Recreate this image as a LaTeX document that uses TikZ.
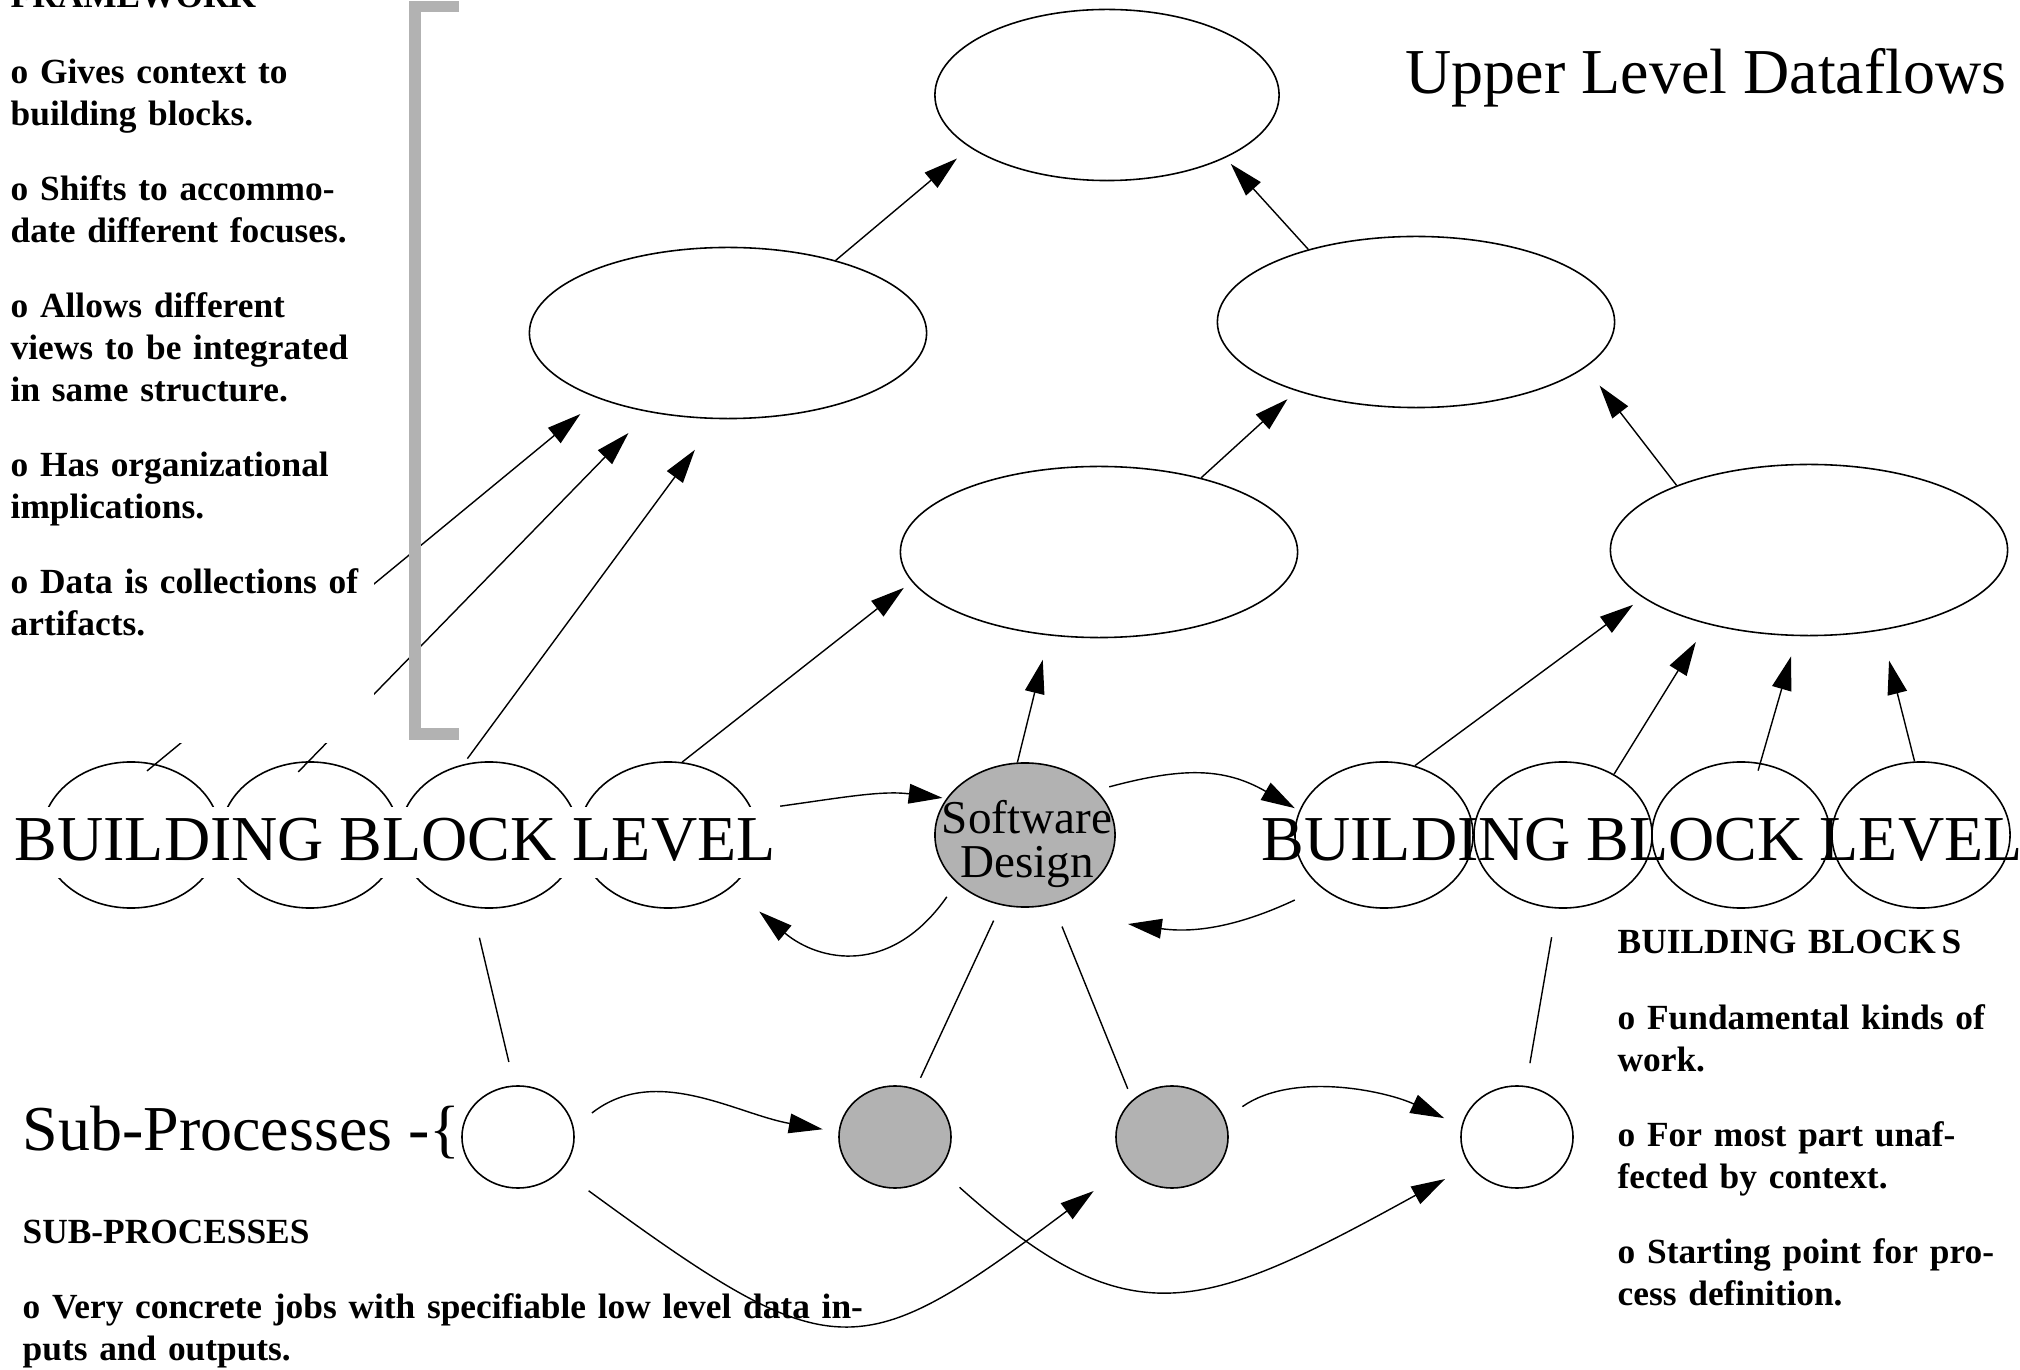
\documentclass[tikz,border=0pt]{standalone}
\usepackage{fontspec}
\setmainfont{Liberation Serif}
\usetikzlibrary{shapes,arrows.meta,calc}
\newcommand{\notefont}{\fontsize{10.05pt}{11.95pt}\selectfont\bfseries}
\newcommand{\bigfont}{\fontsize{18.2pt}{21pt}\selectfont}
\newcommand{\sdfont}{\fontsize{13.4pt}{12.5pt}\selectfont}
\tikzset{blob/.style = {draw, ellipse, inner sep=0pt, line width=0.45pt},
         upper/.style = {blob, minimum width=3.97cm, minimum height=1.71cm},
         block/.style = {blob, minimum width=1.78cm, minimum height=1.46cm},
         job/.style = {blob, minimum width=1.12cm, minimum height=1.02cm},
         filled/.style = {fill=black!30},
         flow/.style = {line width=0.4pt, -{Triangle[length=9.6pt,width=5.6pt]}},
         link/.style = {line width=0.4pt},
         note/.style = {font=\notefont, anchor=base west, inner sep=0pt, align=left},
         bigtext/.style = {font=\bigfont, anchor=base west, inner sep=0pt}}
\def\gapskip{9.4pt}

\begin{document}
\begin{tikzpicture}[x=0.01cm, y=-0.01cm]
\useasboundingbox (0,0) rectangle (2020,1370);

% upper level dataflows
\node (top) [upper, minimum width=3.44cm] at (1107,95) {};
\node (midL) [upper] at (728,333) {};
\node (midR) [upper] at (1416,322) {};
\node (lowM) [upper] at (1099,552) {};
\node (lowR) [upper] at (1809,550) {};

% building block level
\node (bb1) [block] at (131,835) {};
\node (bb2) [block] at (310,835) {};
\node (bb3) [block] at (489,835) {};
\node (bb4) [block] at (668,835) {};
\node (sd) [block, filled, minimum width=1.80cm, minimum height=1.44cm] at (1025,835) {};
\node (bbR1) [block] at (1384,835) {};
\node (bbR2) [block] at (1563,835) {};
\node (bbR3) [block] at (1741,835) {};
\node (bbR4) [block] at (1921,835) {};

% sub-processes
\node (sub1) [job] at (518,1137) {};
\node (sub2) [job, filled] at (895,1137) {};
\node (sub3) [job, filled] at (1172,1137) {};
\node (sub4) [job] at (1517,1137) {};

% big labels
\node (uld) [bigtext] at (1405,94) {Upper Level Dataflows};
\node (bbtxtL) [bigtext, fill=white, inner xsep=0.04cm, text height=15.1pt, text depth=5.1pt] at (10,860) {BUILDING BLOCK LEVEL};
\node (bbtxtR) [bigtext] at (1261,860) {BUILDING BLOCK LEVEL};
\node (subtxt) [bigtext] at (22,1150) {Sub-Processes -\{};
\node (sdtext) [font=\sdfont, align=center, inner sep=0pt] at (1027,844) {Software\\Design};

% Draw connections between nodes
\draw [flow, shorten >=0.17cm] (midL.34) -- (top.201);
\draw [flow, shorten >=0.08cm] (midR.146) -- (top.332);
\draw [flow, shorten >=0.12cm] (lowM.36) -- (midR.210);
\draw [flow, shorten >=0.23cm] (lowR.154) -- (midR.345);

\draw [flow, shorten <=-0.11cm, shorten >=0.24cm] (bb1.71) -- (midL.207);
\draw [flow, shorten <=-0.15cm, shorten >=0.29cm] (bb2.91) -- (midL.225);
\draw [flow, shorten <=0.07cm, shorten >=0.38cm] (bb3.110) -- (midL.263);
\draw [flow, shorten >=0.10cm] (bb4.79) -- (lowM.189);
\draw [flow, shorten >=0.25cm] (sd.96) -- (lowM.239);
\draw [flow, shorten >=0.12cm] (bbR1.66) -- (lowR.196);
\draw [flow, shorten >=0.21cm] (bbR2.50) -- (lowR.216);
\draw [flow, shorten <=-0.08cm, shorten >=0.21cm] (bbR3.75) -- (lowR.262);
\draw [flow, shorten >=0.31cm] (bbR4.95) -- (lowR.312);

% flows in and out of software design
\draw [flow, shorten >=0.04cm] (bbtxtL.north east) to[out=8, in=173] (sd.155);
\draw [flow, shorten <=0.17cm, shorten >=0.37cm] (sd.215) to[out=235, in=320, looseness=1.3] (bb4.320);
\draw [flow, shorten <=0.13cm, shorten >=0.05cm] (sd.32) to[out=15, in=150, looseness=1.1] (bbR1.164);
\coordinate (sdin) at ($(sd.center)+(103,89)$);
\draw [flow, shorten <=0.29cm] (bbR1.220) to[out=205, in=352] (sdin);

% links down to the sub-processes
\draw [link, shorten <=0.31cm, shorten >=0.24cm] (bb3.257) -- (sub1.94);
\draw [link, shorten <=0.17cm, shorten >=0.12cm] (sd.251) -- (sub2.67);
\draw [link, shorten <=0.24cm, shorten >=0.12cm] (sd.292) -- (sub3.137);
\draw [link, shorten <=0.29cm, shorten >=0.23cm] (bbR2.265) -- (sub4.80);

% flows between sub-processes
\draw [flow, shorten <=0.23cm, shorten >=0.16cm] (sub1.10) to[out=38, in=170] (sub2.175);
\draw [flow, shorten <=0.34cm, shorten >=0.40cm] (sub1.322) .. controls ($(sub1)+(316,233)$) and ($(sub3)+(-315,231)$) .. (sub3.213);
\draw [flow, shorten <=0.27cm, shorten >=0.28cm] (sub2.324) .. controls ($(sub2)+(235,203)$) and ($(sub4)+(-317,177)$) .. (sub4.211);
\draw [flow, shorten <=0.21cm, shorten >=0.19cm] (sub3.19) to[out=35, in=155, looseness=0.9] (sub4.169);

% framework notes, over a white frame, with the grey bracket
\fill [white] (0,0) rectangle (374,743);
\draw [black!30, line width=0.11cm] (459,7) -- (415,7) -- (415,734) -- (459,734);
\node (frame) [note, text width=3.7cm] at (10,8) {FRAMEWORK\\[\gapskip]
  o Gives context to\\ building blocks.\\[\gapskip]
  o Shifts to accommo-\\ date different focuses.\\[\gapskip]
  o Allows different\\ views to be integrated\\ in same structure.\\[\gapskip]
  o Has organizational\\ implications.\\[\gapskip]
  o Data is collections of\\ artifacts.};

\node (blocks) [note, text width=3.95cm] at (1617,954) {BUILDING BLOCK\,S\\[\gapskip]
  o Fundamental kinds of\\ work.\\[\gapskip]
  o For most part unaf-\\ fected by context.\\[\gapskip]
  o Starting point for pro-\\ cess definition.};

\node (subs) [note, text width=8.7cm] at (22,1243) {SUB-PROCESSES\\[\gapskip]
  o Very concrete jobs with specifiable low level data in-\\ puts and outputs.};
\end{tikzpicture}
\end{document}
